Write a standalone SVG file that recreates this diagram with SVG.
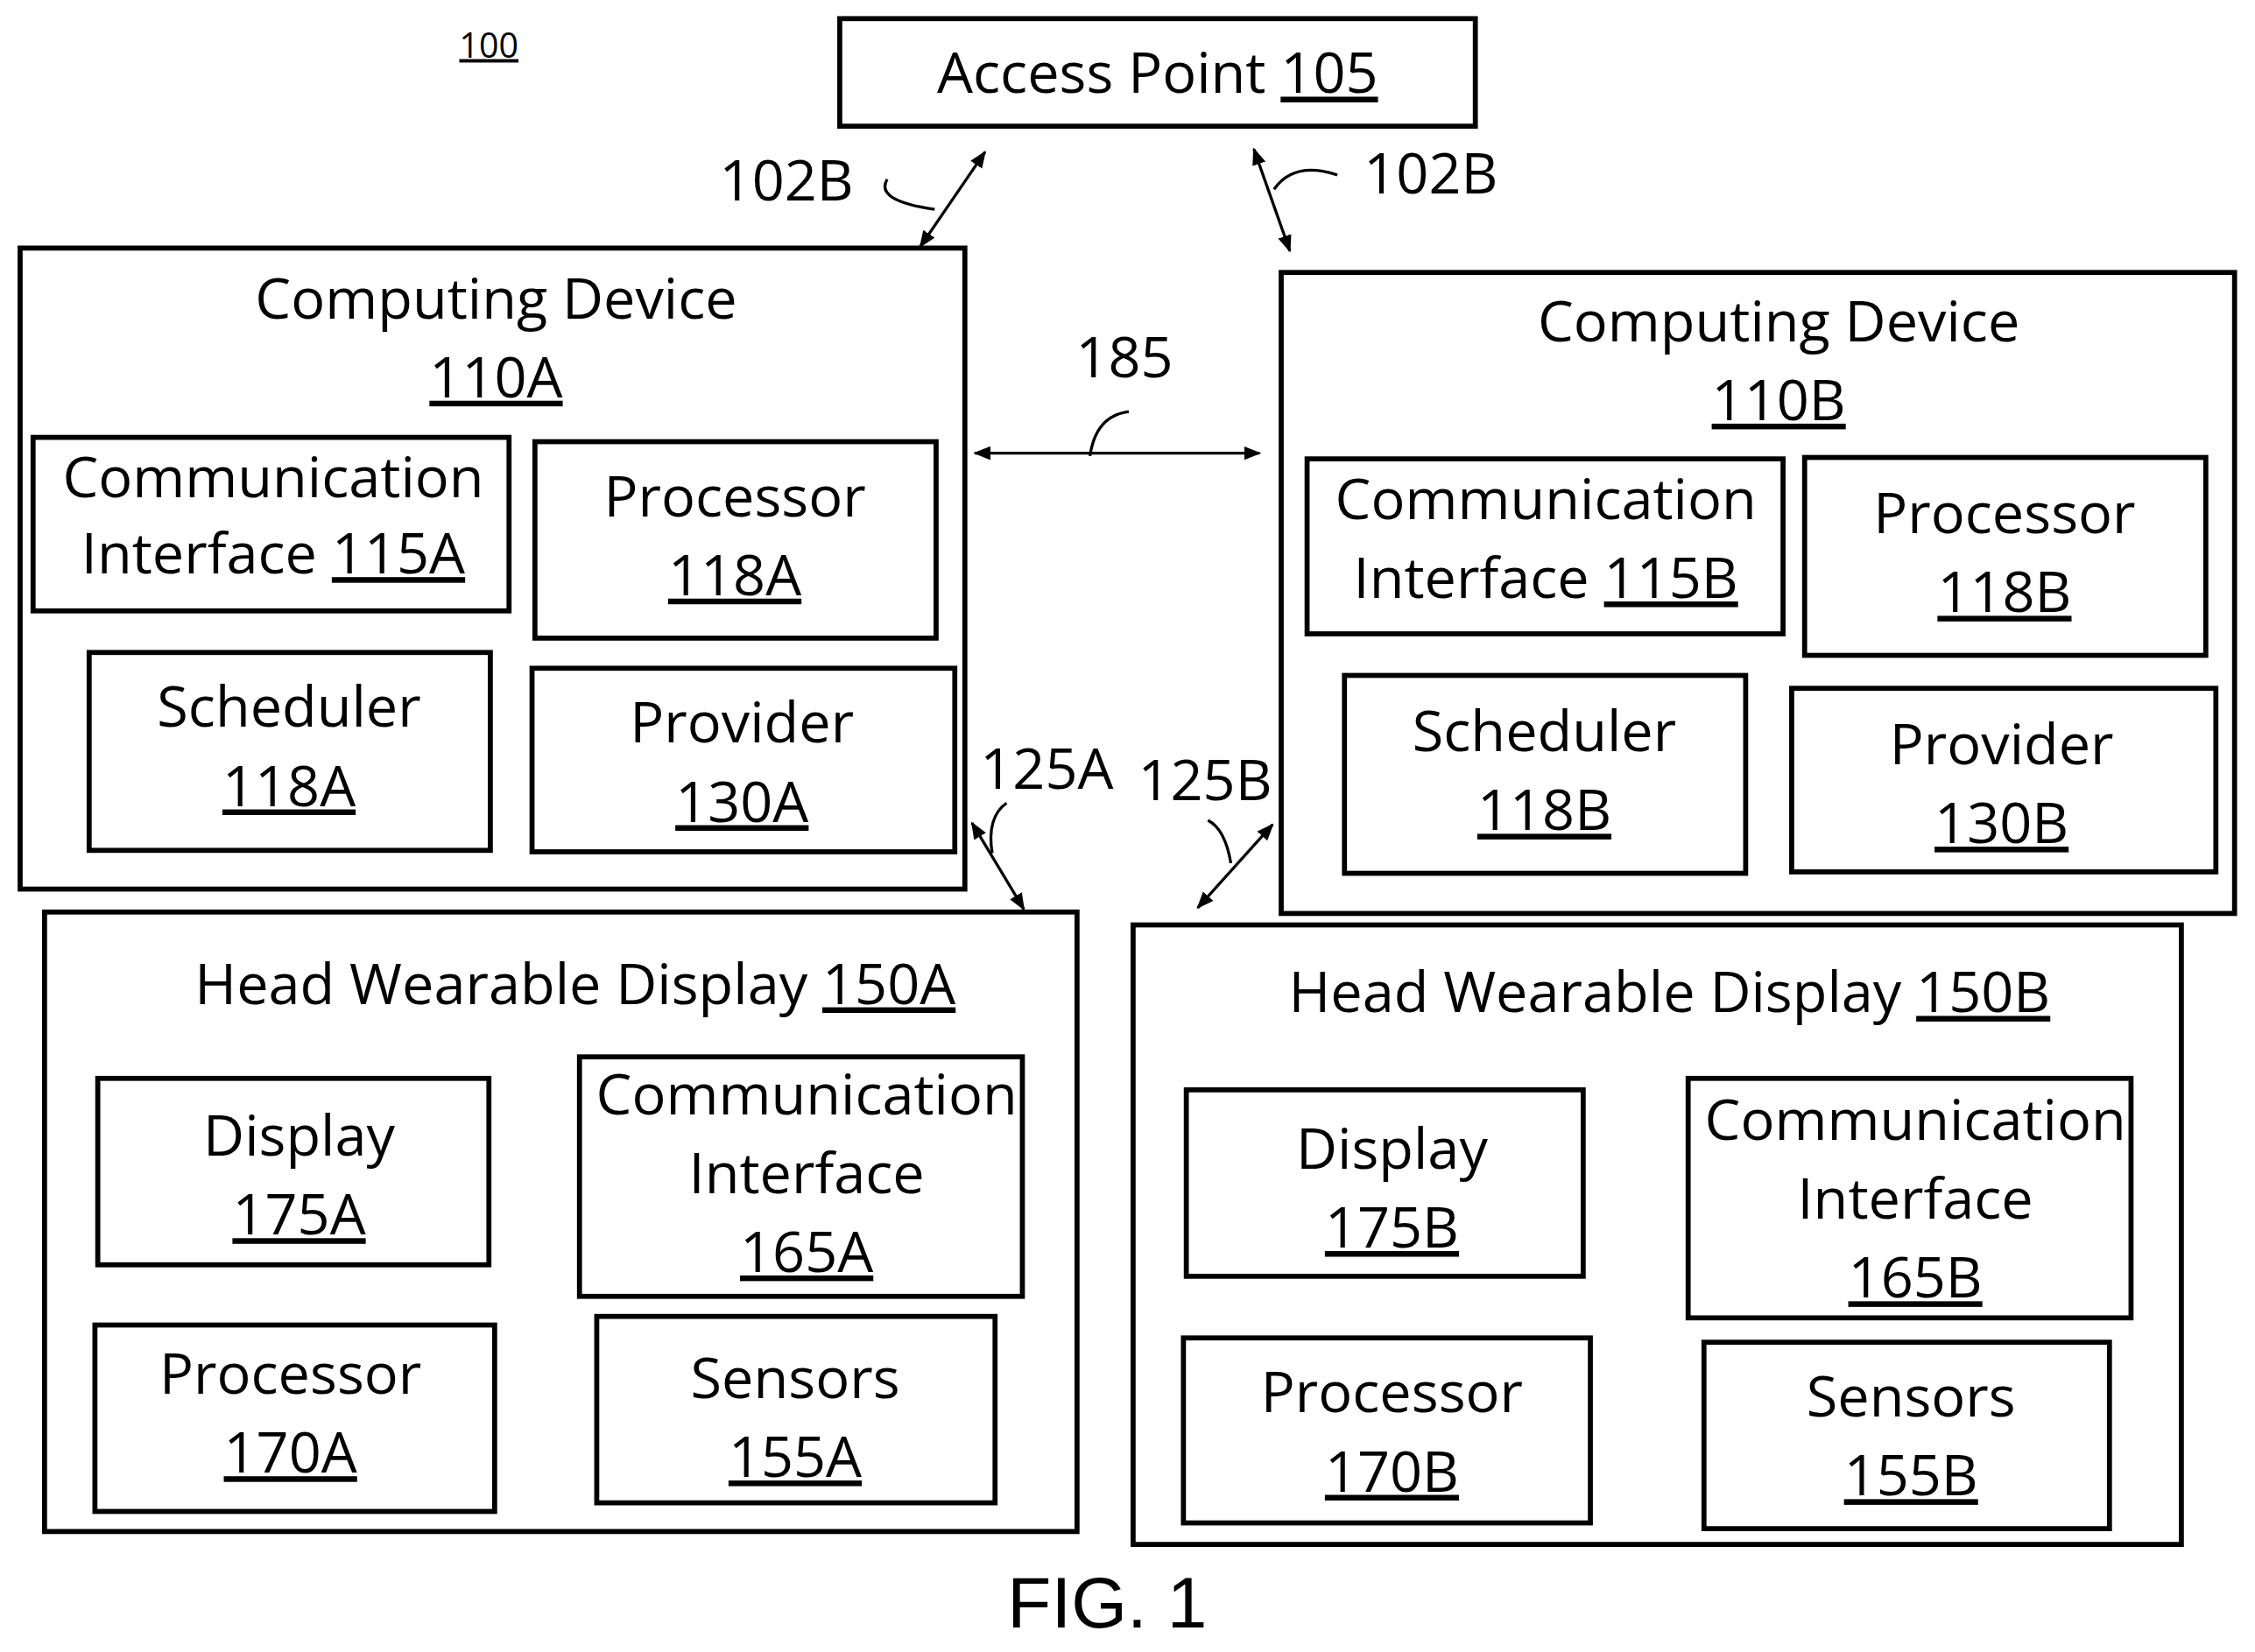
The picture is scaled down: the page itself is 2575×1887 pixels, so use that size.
<svg xmlns="http://www.w3.org/2000/svg" width="2575" height="1887" viewBox="0 0 2575 1887">
<style>
.b{fill:#fff;stroke:#000;stroke-width:3.5}
.t{font-family:"Open Sans","Liberation Sans",sans-serif;font-size:39.5px;text-anchor:middle;fill:#000}
.c{fill:none;stroke:#000;stroke-width:2}
</style>
<defs><marker id="a" viewBox="0 0 10 10" refX="9" refY="5" markerWidth="12" markerHeight="12" markerUnits="userSpaceOnUse" orient="auto-start-reverse"><path d="M0,1 L10,5 L0,9 z" fill="#000"/></marker></defs>
<rect width="2575" height="1887" fill="#fff"/>
<g transform="scale(1.642,1.638)">
<text x="340" y="40" class="t" style="font-size:24px;text-decoration:underline">100</text>
<g id="ap"><rect class="b" x="584" y="13" width="442" height="75"/><text class="t" x="805" y="65">Access Point <tspan text-decoration="underline">105</tspan></text></g>
<g id="cdA"><rect class="b" x="14" y="173" width="657" height="447"/><text class="t" x="345" y="222">Computing Device</text><text class="t" x="345" y="277" text-decoration="underline">110A</text></g>
<g id="ci115A"><rect class="b" x="23" y="305" width="331" height="121"/><text class="t" x="190" y="347">Communication</text><text class="t" x="190" y="400">Interface <tspan text-decoration="underline">115A</tspan></text></g>
<g id="p118A"><rect class="b" x="372" y="308" width="279" height="137"/><text class="t" x="511" y="360">Processor</text><text class="t" x="511" y="415" text-decoration="underline">118A</text></g>
<g id="s118A"><rect class="b" x="62" y="455" width="279" height="138"/><text class="t" x="201" y="507">Scheduler</text><text class="t" x="201" y="562" text-decoration="underline">118A</text></g>
<g id="pr130A"><rect class="b" x="370" y="466" width="294" height="128"/><text class="t" x="516" y="518">Provider</text><text class="t" x="516" y="573" text-decoration="underline">130A</text></g>
<g id="cdB"><rect class="b" x="891" y="190" width="663" height="447"/><text class="t" x="1237" y="238">Computing Device</text><text class="t" x="1237" y="293" text-decoration="underline">110B</text></g>
<g id="ci115B"><rect class="b" x="909" y="320" width="331" height="122"/><text class="t" x="1075" y="362">Communication</text><text class="t" x="1075" y="417">Interface <tspan text-decoration="underline">115B</tspan></text></g>
<g id="p118B"><rect class="b" x="1255" y="319" width="279" height="138"/><text class="t" x="1394" y="372">Processor</text><text class="t" x="1394" y="427" text-decoration="underline">118B</text></g>
<g id="s118B"><rect class="b" x="935" y="471" width="279" height="138"/><text class="t" x="1074" y="524">Scheduler</text><text class="t" x="1074" y="579" text-decoration="underline">118B</text></g>
<g id="pr130B"><rect class="b" x="1246" y="480" width="295" height="128"/><text class="t" x="1392" y="533">Provider</text><text class="t" x="1392" y="588" text-decoration="underline">130B</text></g>
<g id="hA"><rect class="b" x="31" y="636" width="718" height="432"/><text class="t" x="400" y="700">Head Wearable Display <tspan text-decoration="underline">150A</tspan></text></g>
<g id="d175A"><rect class="b" x="68" y="752" width="272" height="130"/><text class="t" x="208" y="806">Display</text><text class="t" x="208" y="861" text-decoration="underline">175A</text></g>
<g id="ci165A"><rect class="b" x="403" y="737" width="308" height="167"/><text class="t" x="561" y="777">Communication</text><text class="t" x="561" y="832">Interface</text><text class="t" x="561" y="887" text-decoration="underline">165A</text></g>
<g id="p170A"><rect class="b" x="66" y="924" width="278" height="130"/><text class="t" x="202" y="972">Processor</text><text class="t" x="202" y="1027" text-decoration="underline">170A</text></g>
<g id="s155A"><rect class="b" x="415" y="918" width="277" height="130"/><text class="t" x="553" y="975">Sensors</text><text class="t" x="553" y="1030" text-decoration="underline">155A</text></g>
<g id="hB"><rect class="b" x="788" y="645" width="729" height="432"/><text class="t" x="1161" y="706">Head Wearable Display <tspan text-decoration="underline">150B</tspan></text></g>
<g id="d175B"><rect class="b" x="825" y="760" width="276" height="130"/><text class="t" x="968" y="815">Display</text><text class="t" x="968" y="870" text-decoration="underline">175B</text></g>
<g id="ci165B"><rect class="b" x="1174" y="752" width="308" height="167"/><text class="t" x="1332" y="795">Communication</text><text class="t" x="1332" y="850">Interface</text><text class="t" x="1332" y="905" text-decoration="underline">165B</text></g>
<g id="p170B"><rect class="b" x="823" y="933" width="283" height="129"/><text class="t" x="968" y="985">Processor</text><text class="t" x="968" y="1040" text-decoration="underline">170B</text></g>
<g id="s155B"><rect class="b" x="1185" y="936" width="282" height="130"/><text class="t" x="1329" y="988">Sensors</text><text class="t" x="1329" y="1043" text-decoration="underline">155B</text></g>
<g id="connectors">
<line class="c" x1="640" y1="172" x2="685" y2="106" marker-start="url(#a)" marker-end="url(#a)"/>
<line class="c" x1="872" y1="104" x2="897" y2="175" marker-start="url(#a)" marker-end="url(#a)"/>
<line class="c" x1="678" y1="316" x2="876" y2="316" marker-start="url(#a)" marker-end="url(#a)"/>
<line class="c" x1="676" y1="574" x2="712" y2="634" marker-start="url(#a)" marker-end="url(#a)"/>
<line class="c" x1="833" y1="633" x2="885" y2="575" marker-start="url(#a)" marker-end="url(#a)"/>
<path class="c" d="M617,125 Q608,140 650,146"/>
<path class="c" d="M930,122 Q900,112 886,132"/>
<path class="c" d="M785,287 Q762,290 758,318"/>
<path class="c" d="M700,560 Q686,570 690,595"/>
<path class="c" d="M840,572 Q852,578 856,602"/>
</g>
<text class="t" x="547" y="140">102B</text>
<text class="t" x="995" y="135">102B</text>
<text class="t" x="782" y="263">185</text>
<text class="t" x="728" y="550">125A</text>
<text class="t" x="838" y="558">125B</text>
<text class="t" x="770" y="1135" style="font-family:'Liberation Sans',sans-serif;font-size:50px">FIG. 1</text>
</g>
</svg>
